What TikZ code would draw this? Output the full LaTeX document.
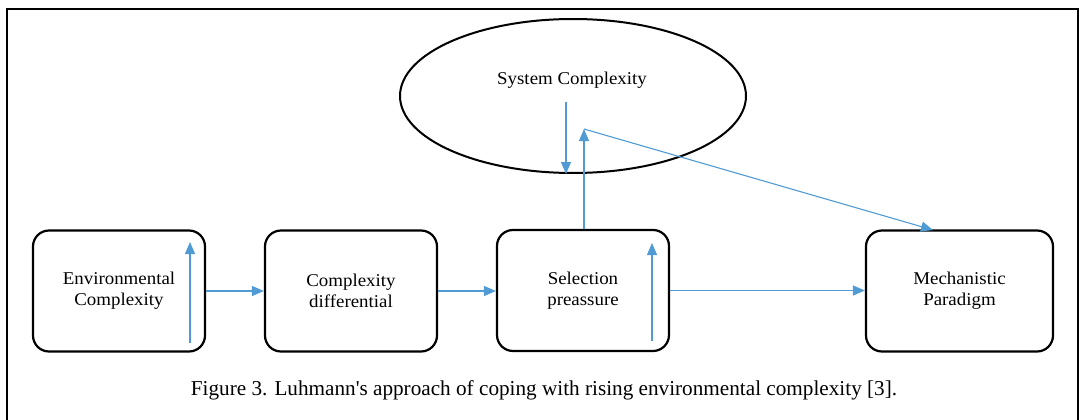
\documentclass[tikz,border=0pt]{standalone}
\usepackage{fontspec}
\setmainfont{Liberation Serif}
\newfontfamily\widefont[FakeStretch=1.05]{Liberation Serif}
\usetikzlibrary{arrows.meta,shapes.geometric}
\definecolor{arrowblue}{RGB}{80,155,212}
\begin{document}
\begin{tikzpicture}[x=1pt,y=-1pt,
  stage/.style={draw,line width=2.2pt,rounded corners=16pt,minimum width=172pt,minimum height=121pt,
    align=center,font=\widefont\fontsize{18}{21}\selectfont,inner sep=0pt},
  flow/.style={draw=arrowblue,line width=1.4pt,-{Triangle[length=12pt,width=10pt]}},
  link/.style={draw=arrowblue,line width=1.1pt,-{Triangle[length=12pt,width=10pt]}}]
\clip (0,0) rectangle (1080,420);
\draw[line width=2pt] (7,9) rectangle (1078,440);
% the four stages
\node[stage] (env) at (119,291) {Environmental\\Complexity};
\node[stage] (diff) at (351,291) {Complexity\\differential};
\node[stage] (sel) at (583,290.5) {Selection\\preassure};
\node[stage,minimum width=187pt] (mech) at (959.5,291) {Mechanistic\\Paradigm};
% system on top
\node[draw,ellipse,line width=2pt,minimum width=346pt,minimum height=154pt,inner sep=0pt] (sys) at (573,96) {};
\node[font=\widefont\fontsize{18}{21}\selectfont] (systxt) at (572,80) {System Complexity};
\coordinate (envlow) at (190,343);
\coordinate (envtop) at (190,242);
\coordinate (sellow) at (652,341);
\coordinate (seltop) at (652,243);
\coordinate (sysin) at (566,102);
\coordinate (systip) at (584,129);
\coordinate (mechin) at (933,230);
% connectors
\draw[link] (envlow) -- (envtop);
\draw[link] (sellow) -- (seltop);
\draw[flow] (env.east) -- (diff.west);
\draw[flow] (diff.east) -- (diff.east -| sel.west);
\draw[flow] (sel.east) -- (sel.east -| mech.west);
\draw[link] (sysin) -- (sysin |- sys.south);
\draw[link] (sel.north -| systip) -- (systip);
\draw[link] (systip) -- (mechin);
\node[font=\fontsize{21.2}{24}\selectfont] (caption) at (544,390) {Figure 3. Luhmann\textquotesingle s approach of coping with rising environmental complexity [3].};
\end{tikzpicture}
\end{document}
